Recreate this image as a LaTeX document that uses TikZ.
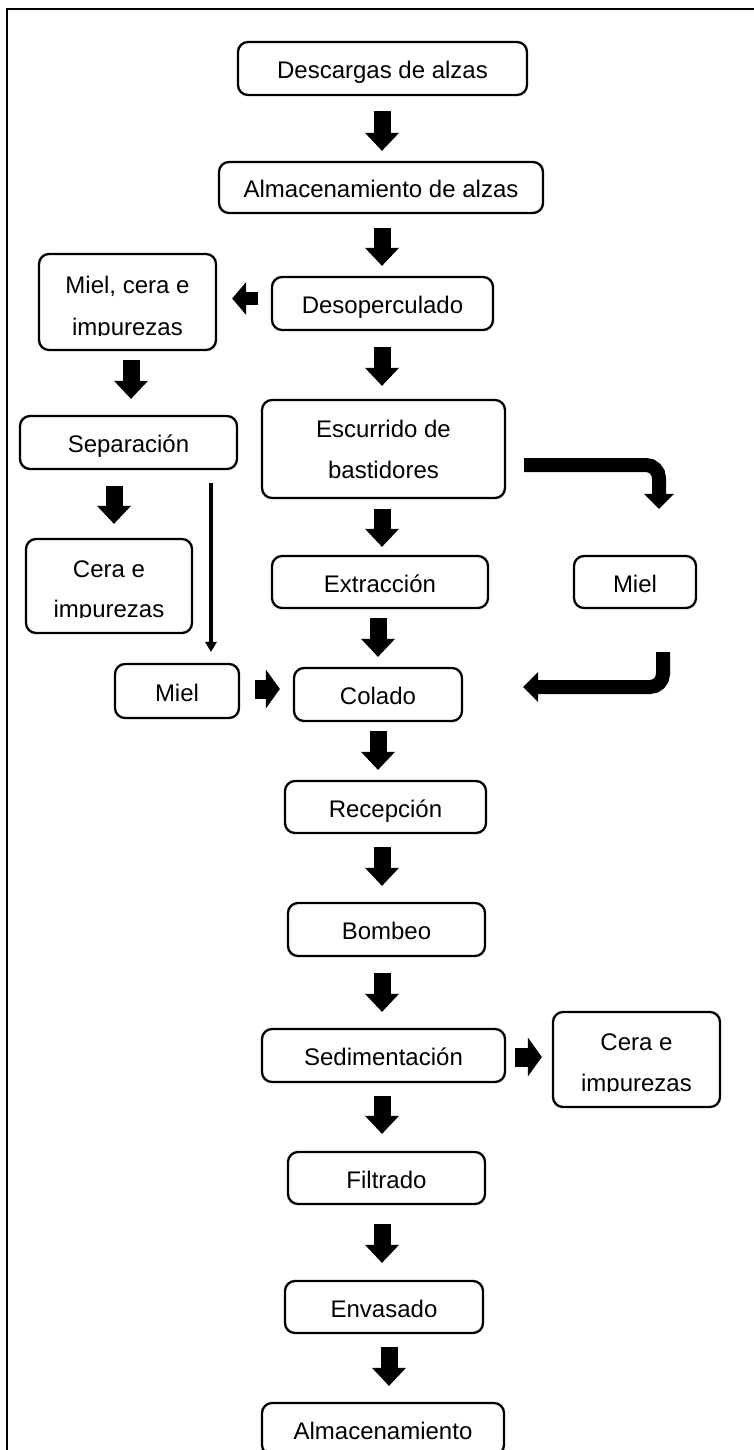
\documentclass[tikz,border=0pt]{standalone}
\usepackage{fontspec}
\setmainfont{Liberation Sans}
\usetikzlibrary{arrows.meta,calc}
\newcommand\boxfont{\fontsize{24}{41}\selectfont}
\begin{document}
\begin{tikzpicture}[x=1pt,y=-1pt,
  box/.style={draw, line width=2.3pt, rounded corners=10pt, inner sep=0pt, font=\boxfont, text height=24pt, text depth=4pt},
  tbox/.style={draw, line width=2.3pt, rounded corners=10pt, inner sep=0pt},
  txt/.style={font=\boxfont, inner sep=0pt, anchor=base},
  blk/.style={line width=17pt, -{Triangle[length=18pt,width=34pt,line width=0pt]}},
  hblkl/.style={line width=13pt, -{Triangle[length=14pt,width=33pt,line width=0pt]}},
  hblkr/.style={line width=19pt, -{Triangle[length=14pt,width=39pt,line width=0pt]}},
  bentarrow/.style={line width=14pt, rounded corners=13pt, -{Triangle[length=15pt,width=30pt,line width=0pt]}},
  thinarrow/.style={line width=3.5pt, -{Triangle[length=10pt,width=12pt,line width=0pt]}}]
\useasboundingbox (0,0) rectangle (753,1450);
% frame
\draw[line width=2.5pt] (7,1452) -- (7,9) -- (755,9);

% main column
\node[box, minimum width=289pt, minimum height=53pt] (desc) at (382.5,68.5) {Descargas de alzas};
\node[box, minimum width=324pt, minimum height=51pt] (alm1) at (381,187.5) {Almacenamiento de alzas};
\node[box, minimum width=221pt, minimum height=53pt] (desop) at (382.5,303.5) {Desoperculado};
\node[tbox, minimum width=243pt, minimum height=98pt] (escu) at (383.5,449) {};
\node[txt] (escu1) at ([shift={(0,-12)}]escu.center) {Escurrido de};
\node[txt] (escu2) at ([shift={(0,29)}]escu.center) {bastidores};
\node[box, minimum width=216pt, minimum height=52pt] (extr) at (380,582) {Extracción};
\node[box, minimum width=168pt, minimum height=53pt] (colado) at (378,694.5) {Colado};
\node[box, minimum width=201pt, minimum height=52pt] (recep) at (385.5,807) {Recepción};
\node[box, minimum width=197pt, minimum height=53pt] (bomb) at (386.5,929.5) {Bombeo};
\node[box, minimum width=243pt, minimum height=53pt] (sedi) at (383.5,1055.5) {Sedimentación};
\node[box, minimum width=197pt, minimum height=52pt] (filt) at (386.5,1178) {Filtrado};
\node[box, minimum width=198pt, minimum height=52pt] (envas) at (384,1307) {Envasado};
\node[box, minimum width=242pt, minimum height=52pt] (alm2) at (383,1429) {Almacenamiento};

% left column
\node[tbox, minimum width=177pt, minimum height=96pt] (mce) at (127.5,302) {};
\node[txt] (mce1) at ([shift={(0,-9)}]mce.center) {Miel, cera e};
\begin{scope}
  \clip (mce.north west) rectangle ([shift={(0,33)}]mce.east);
  \node[txt] (mce2) at ([shift={(0,33)}]mce.center) {impurezas};
\end{scope}
\node[box, minimum width=217pt, minimum height=53pt] (sep) at (128.5,442.5) {Separación};
\node[tbox, minimum width=166pt, minimum height=94pt] (cera1) at (109,586) {};
\node[txt] (cera1a) at ([shift={(0,-9)}]cera1.center) {Cera e};
\begin{scope}
  \clip (cera1.north west) rectangle ([shift={(0,31)}]cera1.east);
  \node[txt] (cera1b) at ([shift={(0,31)}]cera1.center) {impurezas};
\end{scope}
\node[box, minimum width=124pt, minimum height=54pt] (miel1) at (177,691) {Miel};

% right column
\node[box, minimum width=122pt, minimum height=52pt] (miel2) at (635,582) {Miel};
\node[tbox, minimum width=167pt, minimum height=95pt] (cera2) at (636.5,1059.5) {};
\node[txt] (cera2a) at ([shift={(0,-9.5)}]cera2.center) {Cera e};
\begin{scope}
  \clip (cera2.north west) rectangle ([shift={(0,31.5)}]cera2.east);
  \node[txt] (cera2b) at ([shift={(0,31.5)}]cera2.center) {impurezas};
\end{scope}

% vertical block arrows
\draw[blk] ([shift={(-0.5,15)}]desc.south) -- ([shift={(1,-10)}]alm1.north);
\draw[blk] ([shift={(1,14)}]alm1.south) -- ([shift={(-0.5,-10)}]desop.north);
\draw[blk] ([shift={(-0.5,16)}]desop.south) -- ([shift={(-1.5,-13)}]escu.north);
\draw[blk] ([shift={(3.5,9)}]mce.south) -- ([shift={(2.5,-16)}]sep.north);
\draw[blk] ([shift={(-14.5,16)}]sep.south) -- ([shift={(5,-14)}]cera1.north);
\draw[blk] ([shift={(-1.5,10)}]escu.south) -- ([shift={(2,-8)}]extr.north);
\draw[blk] ([shift={(-2,9)}]extr.south) -- ([shift={(0,-10)}]colado.north);
\draw[blk] ([shift={(0,9)}]colado.south) -- ([shift={(-7.5,-10)}]recep.north);
\draw[blk] ([shift={(-3.5,13)}]recep.south) -- ([shift={(-4.5,-16)}]bomb.north);
\draw[blk] ([shift={(-4.5,16)}]bomb.south) -- ([shift={(-1.5,-16)}]sedi.north);
\draw[blk] ([shift={(-1.5,13)}]sedi.south) -- ([shift={(-4.5,-17)}]filt.north);
\draw[blk] ([shift={(-4.5,19)}]filt.south) -- ([shift={(-2,-17)}]envas.north);
\draw[blk] ([shift={(5,13)}]envas.south) -- ([shift={(6,-16)}]alm2.north);

% horizontal block arrows
\draw[hblkl] ([shift={(-13,-5)}]desop.west) -- ([shift={(15,-3.5)}]mce.east);
\draw[hblkr] ([shift={(15,-2)}]miel1.east) -- ([shift={(-13,-5.5)}]colado.west);
\draw[hblkr] ([shift={(9,1.5)}]sedi.east) -- ([shift={(-10,-2.5)}]cera2.west);

% bent arrows
\draw[bentarrow] ([shift={(18,16)}]escu.east) -| ([shift={(24,-46)}]miel2.north);
\draw[bentarrow] ([shift={(28,43)}]miel2.south) |- ([shift={(60,-7.5)}]colado.east);

% thin arrow
\draw[thinarrow] ([shift={(82.5,13)}]sep.south) -- ([shift={(34,-11)}]miel1.north);
\end{tikzpicture}
\end{document}
